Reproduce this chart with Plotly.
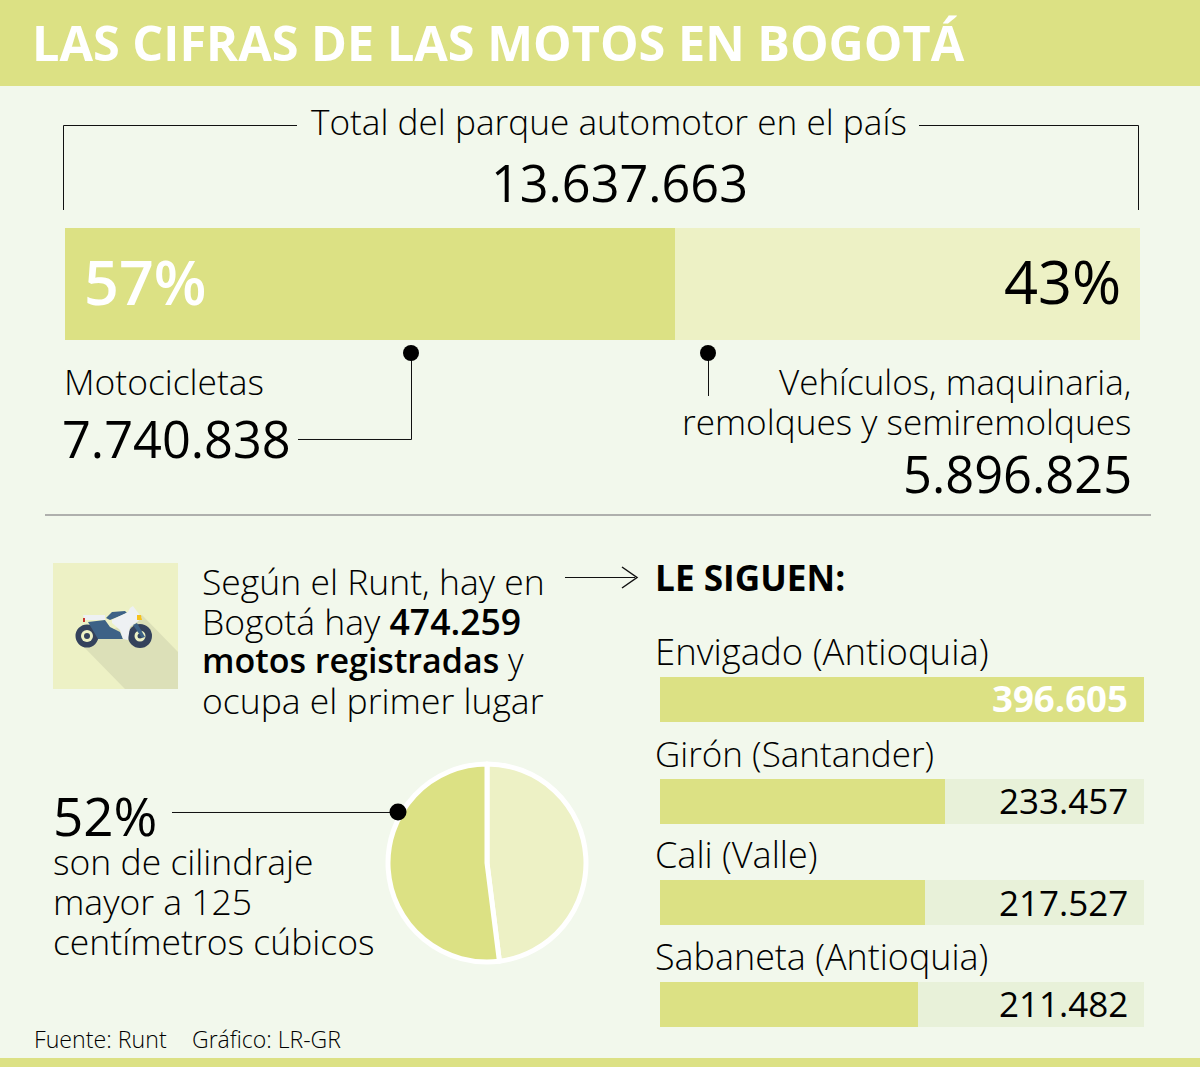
import plotly.graph_objects as go

W, H = 1200, 1067

# datos
parque_labels = ["Motocicletas", "Vehículos, maquinaria, remolques y semiremolques"]
parque_values = [7740838, 5896825]
parque_pct = ["57%", "43%"]
total_parque = "13.637.663"

ciudades = ["Envigado (Antioquia)", "Girón (Santander)", "Cali (Valle)", "Sabaneta (Antioquia)"]
motos = [396605, 233457, 217527, 211482]
motos_txt = ["396.605", "233.457", "217.527", "211.482"]

cilindraje_labels = ["Resto", "Mayor a 125"]
cilindraje_values = [48, 52]

VERDE = "#dce184"
VERDE_CLARO = "#edf1c5"
VERDE_FONDO = "#e8f1d9"
FONDO = "#f2f8ec"
FONT = "Open Sans"


def px(x):
    return x / W


def py(y):
    return 1 - y / H


fig = go.Figure()

# barra superior
fig.add_trace(go.Bar(x=[parque_values[0]], y=["total"], orientation="h", width=1, marker=dict(color=VERDE, line_width=0),
                     xaxis="x", yaxis="y", hoverinfo="skip"))
fig.add_trace(go.Bar(x=[parque_values[1]], y=["total"], orientation="h", width=1, marker=dict(color=VERDE_CLARO, line_width=0),
                     xaxis="x", yaxis="y", hoverinfo="skip"))

# barras de ciudades
resto = [max(motos) - m for m in motos]
fig.add_trace(go.Bar(x=motos, y=ciudades, orientation="h", width=0.4425, marker=dict(color=VERDE, line_width=0),
                     xaxis="x2", yaxis="y2", hoverinfo="skip"))
fig.add_trace(go.Bar(x=resto, y=ciudades, orientation="h", width=0.4425, marker=dict(color=VERDE_FONDO, line_width=0),
                     xaxis="x2", yaxis="y2", hoverinfo="skip"))

# torta
fig.add_trace(go.Pie(values=cilindraje_values, labels=cilindraje_labels, sort=False, direction="clockwise",
                     rotation=0, textinfo="none", hoverinfo="skip", showlegend=False,
                     marker=dict(colors=[VERDE_CLARO, VERDE], line=dict(color="white", width=5)),
                     domain=dict(x=[px(388), px(586)], y=[py(962), py(764)])))

shapes = []


def rect(x0, y0, x1, y1, color):
    shapes.append(dict(type="rect", xref="paper", yref="paper", x0=px(x0), x1=px(x1), y0=py(y1), y1=py(y0),
                       fillcolor=color, line_width=0, layer="below"))


def poly(points, color=None, line=None, width=1, close=False):
    d = "M" + " L".join(f"{px(x):.5f},{py(y):.5f}" for x, y in points) + (" Z" if close else "")
    s = dict(type="path", xref="paper", yref="paper", path=d, line=dict(color=line or "rgba(0,0,0,0)", width=width if line else 0))
    if color:
        s["fillcolor"] = color
    shapes.append(s)


def dot(x, y, r, color):
    shapes.append(dict(type="circle", xref="paper", yref="paper", x0=px(x - r), x1=px(x + r), y0=py(y + r), y1=py(y - r),
                       fillcolor=color, line_width=0))


rect(0, 0, W, 86, VERDE)
rect(0, 1058, W, H, VERDE)
rect(53, 563, 178, 689, VERDE_CLARO)

# corchete y conectores
LINEA = "#111111"
poly([(63.5, 210), (63.5, 125.5), (297, 125.5)], line=LINEA)
poly([(919, 125.5), (1138.5, 125.5), (1138.5, 210)], line=LINEA)
poly([(411.5, 353), (411.5, 439.5), (298, 439.5)], line=LINEA)
poly([(708.5, 353), (708.5, 396)], line=LINEA)
poly([(45, 515), (1151, 515)], line="#999999", width=1.5)
poly([(565, 577.5), (635, 577.5)], line=LINEA)
poly([(622, 567), (637, 577.5), (622, 588)], line=LINEA, width=1.5)
poly([(172, 812.5), (398, 812.5)], line=LINEA)
dot(411, 353, 8, "black")
dot(708, 353, 8, "black")
dot(398, 812, 8.5, "black")

# icono de la moto
poly([(82, 645), (125, 689), (178, 689), (178, 652), (142, 615)], color="#dce0b8")
dot(87, 636, 11.5, "#34425c")
dot(87, 636, 6, VERDE_CLARO)
dot(87, 636, 3, "#34425c")
dot(140, 636, 12, "#34425c")
dot(140, 636, 5.5, VERDE_CLARO)
dot(140, 636, 2.5, "#34425c")
poly([(83, 615), (105, 615), (105, 620), (85, 620)], color="#eef1f3")
poly([(88, 622), (105, 620), (110, 627), (120, 632), (123, 639), (98, 639)], color="#3d6286")
poly([(106, 618), (112, 612), (125, 611), (127, 613), (110, 620)], color="#3d6286")
poly([(112, 620), (128, 612), (130, 608), (133, 606), (142, 618), (137, 622), (130, 627), (128, 640), (123, 639), (120, 630), (112, 623)], color="#eef1f3")
poly([(137, 615), (141, 615), (142, 620), (137, 620)], color="#f6c21c")
poly([(133, 625), (137, 623), (145, 637), (142, 638)], color="#3d6286")
poly([(83, 618), (85, 618), (85, 622), (83, 622)], color="#c8342c")

annotations = []


def text(x, y, s, size, anchor="left", color="black", weight=300):
    annotations.append(dict(text=s, x=px(x), y=py(y), xref="paper", yref="paper", xanchor=anchor, yanchor="middle",
                            showarrow=False, align=anchor, borderpad=0,
                            font=dict(family=FONT, size=size, color=color, weight=weight)))


SEMI = '<span style="font-weight:600">%s</span>'

text(31, 42, "LAS CIFRAS DE LAS MOTOS EN BOGOTÁ", 48.6, color="white", weight=700)
text(609, 121, "Total del parque automotor en el país", 35.2, "center")
text(619, 183, total_parque, 50.4, "center", weight=400)
text(83, 281, parque_pct[0], 61, color="white", weight=600)
text(1122, 280, parque_pct[1], 59.5, "right", weight=400)
text(63, 381, "Motocicletas", 35.4)
text(61, 438, f"{parque_values[0]:,}".replace(",", "."), 50.5, weight=400)
text(1132, 381, "Vehículos, maquinaria,", 35, "right")
text(1132, 421, "remolques y semiremolques", 35.2, "right")
text(1133, 473, f"{parque_values[1]:,}".replace(",", "."), 50.6, "right", weight=400)

text(201, 581, "Según el Runt, hay en", 35.5)
text(201, 621, "Bogotá hay " + SEMI % "474.259", 35.5)
text(201, 660, SEMI % "motos registradas" + " y", 34)
text(201, 700, "ocupa el primer lugar", 35.5)
text(654, 577, "LE SIGUEN:", 35.2, weight=700)

text(52, 815, "52%", 53, weight=400)
text(52, 861, "son de cilindraje", 35.5)
text(52, 901, "mayor a 125", 35.5)
text(52, 941, "centímetros cúbicos", 35.5)
text(33, 1039, "Fuente: Runt", 23.2)
text(191, 1039, "Gráfico: LR-GR", 23)

for ciudad, y_lab, tam in zip(ciudades, [651, 753, 854, 956], [36.5, 35, 36, 35.9]):
    text(654, y_lab, ciudad, tam)
for i, (txt, y_val) in enumerate(zip(motos_txt, [698, 800, 902, 1003])):
    text(1129, y_val, txt, 36.6 if i == 0 else 35, "right", color="white" if i == 0 else "black", weight=700 if i == 0 else 400)

eje = dict(visible=False, fixedrange=True)
fig.update_layout(
    width=W, height=H, margin=dict(l=0, r=0, t=0, b=0), paper_bgcolor=FONDO, plot_bgcolor="rgba(0,0,0,0)",
    barmode="stack", showlegend=False, shapes=shapes, annotations=annotations,
    xaxis=dict(eje, domain=[px(65), px(1140)], range=[0, sum(parque_values)], anchor="y"),
    yaxis=dict(eje, domain=[py(340), py(228)], range=[-0.5, 0.5], anchor="x"),
    xaxis2=dict(eje, domain=[px(660), px(1144)], range=[0, max(motos)], anchor="y2"),
    yaxis2=dict(eje, domain=[py(1027), py(677)], range=[3.2212, -0.2212], anchor="x2", type="category"),
)

fig.write_html("out.html", config=dict(displayModeBar=False), post_script="document.body.style.margin='0';")
